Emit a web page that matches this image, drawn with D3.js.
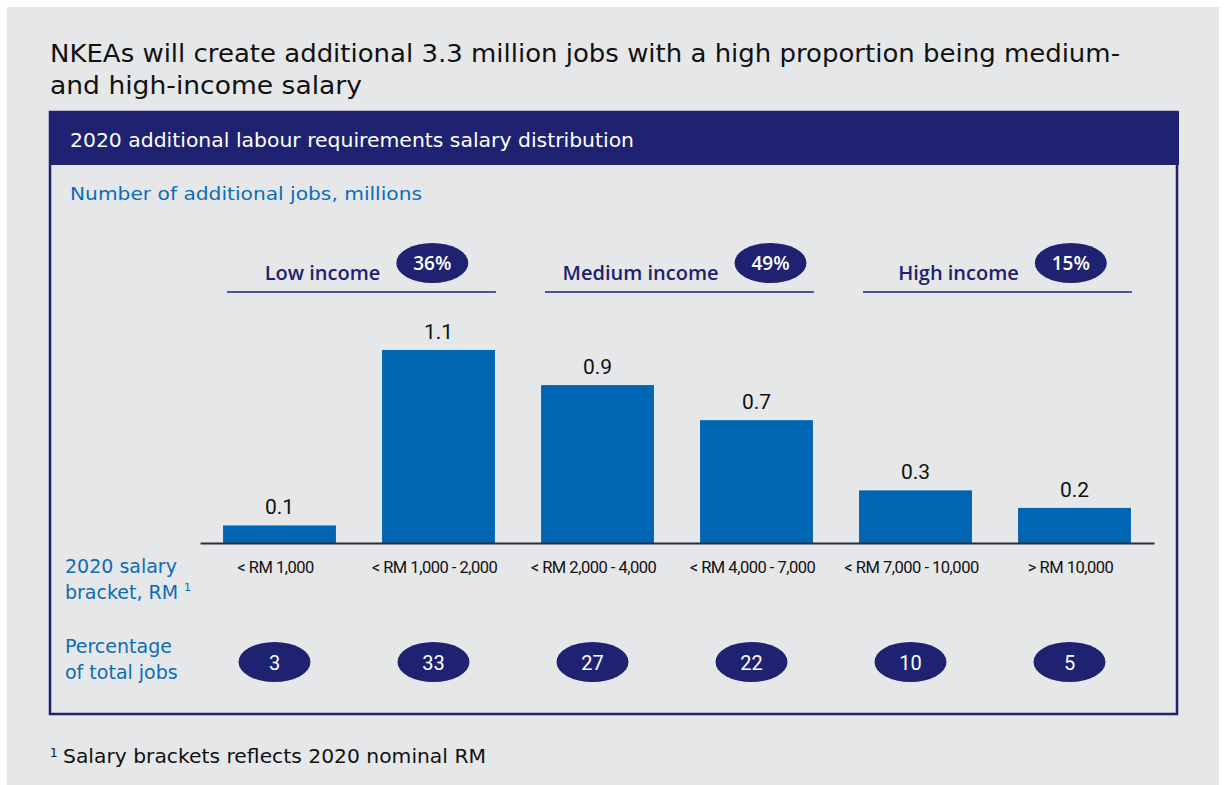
<!DOCTYPE html>
<html>
<head>
<meta charset="utf-8">
<script src="https://cdn.jsdelivr.net/npm/d3@7"></script>
<style>
  html, body { margin: 0; padding: 0; background: #ffffff; }
  svg { display: block; }
</style>
</head>
<body>
<svg id="chart" width="1224" height="785"></svg>
<script>
// Salary brackets and the additional jobs (millions) expected in each
const categories = ["< RM 1,000", "< RM 1,000 - 2,000", "< RM 2,000 - 4,000", "< RM 4,000 - 7,000", "< RM 7,000 - 10,000", "> RM 10,000"];
const jobs = [0.1, 1.1, 0.9, 0.7, 0.3, 0.2];
const shareOfTotal = [3, 33, 27, 22, 10, 5];

// Income groups, each covering two brackets
const groups = ["Low income", "Medium income", "High income"];
const groupShares = ["36%", "49%", "15%"];
const groupFirst = [0, 2, 4];
const groupLast = [1, 3, 5];

const titleLines = ["NKEAs will create additional 3.3 million jobs with a high proportion being medium-", "and high-income salary"];
const panelTitle = "2020 additional labour requirements salary distribution";
const unitLabel = "Number of additional jobs, millions";
const footnote = "Salary brackets reflects 2020 nominal RM";

const NAVY = "#1e2270";
const BLUE = "#0066b3";
const LABEL_BLUE = "#0b6cb8";
const BG = "#e6e7e9";
const SANS = "'DejaVu Sans', 'Noto Sans', sans-serif";
const HEAD = "'Open Sans', 'DejaVu Sans', sans-serif";
const NUM = "Roboto, 'Liberation Sans', sans-serif";

const svg = d3.select("#chart");

// page background
svg.append("rect").attr("x", 7).attr("y", 7).attr("width", 1212).attr("height", 778).attr("fill", BG);

// headline
svg.append("text").attr("x", 50).attr("y", 62).attr("font-family", SANS).attr("font-size", 25.5)
  .attr("fill", "#111").attr("textLength", 1070).attr("lengthAdjust", "spacingAndGlyphs").text(titleLines[0]);
svg.append("text").attr("x", 50).attr("y", 94).attr("font-family", SANS).attr("font-size", 25.5)
  .attr("fill", "#111").attr("textLength", 312).attr("lengthAdjust", "spacingAndGlyphs").text(titleLines[1]);

// panel frame and header band
svg.append("rect").attr("x", 50).attr("y", 112).attr("width", 1127).attr("height", 602)
  .attr("fill", "none").attr("stroke", NAVY).attr("stroke-width", 2.5);
svg.append("rect").attr("x", 49).attr("y", 111).attr("width", 1130).attr("height", 54).attr("fill", NAVY);
svg.append("text").attr("x", 70).attr("y", 147).attr("font-family", SANS).attr("font-size", 20)
  .attr("fill", "#fff").attr("textLength", 564).attr("lengthAdjust", "spacingAndGlyphs").text(panelTitle);

svg.append("text").attr("x", 70).attr("y", 200).attr("font-family", SANS).attr("font-size", 18.5)
  .attr("fill", LABEL_BLUE).attr("textLength", 352).attr("lengthAdjust", "spacingAndGlyphs").text(unitLabel);

// scales
const x = d3.scaleBand().domain(categories).range([200, 1154]).paddingInner(0.29).paddingOuter(0.145);
const y = d3.scaleLinear().domain([0, 1.1]).range([543, 350]);
const bw = x.bandwidth();

// bars
svg.append("g").selectAll("rect").data(jobs).join("rect")
  .attr("x", (d, i) => x(categories[i]))
  .attr("y", d => y(d))
  .attr("width", bw)
  .attr("height", d => y(0) - y(d))
  .attr("fill", BLUE);

// value labels
svg.append("g").selectAll("text").data(jobs).join("text")
  .attr("x", (d, i) => x(categories[i]) + bw / 2)
  .attr("y", d => y(d) - 11)
  .attr("text-anchor", "middle")
  .attr("font-family", NUM).attr("font-size", 21).attr("fill", "#111")
  .text(d => d3.format(".1f")(d));

// baseline with bracket labels
const axis = svg.append("g").attr("transform", `translate(0,${y(0)})`)
  .call(d3.axisBottom(x).tickSize(0).tickPadding(18));
axis.select(".domain").attr("stroke", "#2b2f36").attr("stroke-width", 2);
axis.selectAll(".tick text")
  .attr("x", -4)
  .attr("font-family", NUM).attr("font-size", 16.5).attr("fill", "#111")
  .attr("letter-spacing", -0.5);

// income group headings
const gHead = svg.append("g");
groups.forEach((name, i) => {
  const x0 = x(categories[groupFirst[i]]) + 4;
  const x1 = x(categories[groupLast[i]]) + bw + 1;
  gHead.append("line").attr("x1", x0).attr("x2", x1).attr("y1", 292).attr("y2", 292)
    .attr("stroke", NAVY).attr("stroke-width", 1.5);
  const t = gHead.append("text").attr("y", 280).attr("font-family", HEAD).attr("font-weight", 600)
    .attr("font-size", 20).attr("fill", NAVY).text(name);
  const tw = t.node().getComputedTextLength();
  const rx = 36, gap = 16;
  const total = tw + gap + 2 * rx;
  const left = (x0 + x1) / 2 + 5 - total / 2;
  t.attr("x", left);
  const cx = left + tw + gap + rx;
  gHead.append("ellipse").attr("cx", cx).attr("cy", 263).attr("rx", rx).attr("ry", 20).attr("fill", NAVY);
  gHead.append("text").attr("x", cx).attr("y", 270).attr("text-anchor", "middle")
    .attr("font-family", HEAD).attr("font-weight", 600).attr("font-size", 19).attr("fill", "#fff")
    .text(groupShares[i]);
});

// row labels
const rowLabel = (lines, y0) => {
  const t = svg.append("text").attr("font-family", SANS).attr("font-size", 19).attr("fill", LABEL_BLUE);
  lines.forEach((l, k) => t.append("tspan").attr("x", 65).attr("y", y0 + k * 26).text(l));
  return t;
};
const r1 = rowLabel(["2020 salary", "bracket, RM"], 573);
r1.append("tspan").attr("dx", 6).attr("dy", -8).attr("font-size", 11).text("1");
rowLabel(["Percentage", "of total jobs"], 653);

// share-of-total ovals
const gPct = svg.append("g");
gPct.selectAll("ellipse").data(shareOfTotal).join("ellipse")
  .attr("cx", (d, i) => x(categories[i]) + bw / 2 - 5)
  .attr("cy", 662).attr("rx", 36).attr("ry", 20).attr("fill", NAVY);
gPct.selectAll("text").data(shareOfTotal).join("text")
  .attr("x", (d, i) => x(categories[i]) + bw / 2 - 5)
  .attr("y", 669.5).attr("text-anchor", "middle")
  .attr("font-family", NUM).attr("font-size", 20).attr("fill", "#fff")
  .text(d => d);

// footnote
const fn = svg.append("text").attr("x", 50).attr("y", 763).attr("font-family", SANS).attr("fill", "#111");
fn.append("tspan").attr("font-size", 12).attr("dy", -6).text("1");
fn.append("tspan").attr("x", 63).attr("y", 763).attr("font-size", 19.5)
  .attr("textLength", 423).attr("lengthAdjust", "spacingAndGlyphs").text(footnote);
</script>
</body>
</html>
